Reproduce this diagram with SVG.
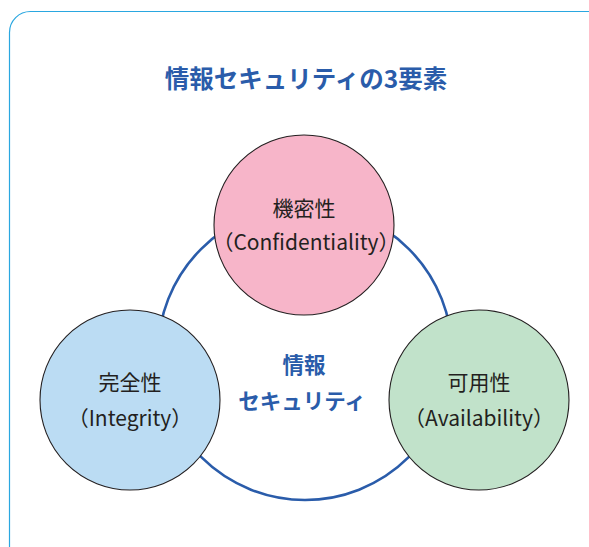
<svg xmlns="http://www.w3.org/2000/svg" width="589" height="547" viewBox="0 0 589 547">
<style>
.frame{fill:#ffffff;stroke:#2aa7e0;stroke-width:1.2}
.ring{fill:none;stroke:#2a5caa;stroke-width:2.6}
.node{stroke:#231f20;stroke-width:1.1}
.lbl{font-family:"Noto Sans CJK JP","Noto Sans",sans-serif;font-size:21px;fill:#231f20;text-anchor:middle;dominant-baseline:central}
.ttl{font-family:"Noto Sans CJK JP","Noto Sans",sans-serif;font-weight:bold;fill:#2a5caa;text-anchor:middle;dominant-baseline:central}
</style>
<rect class="frame" x="9.5" y="11.5" width="600" height="560" rx="21" ry="21"/>
<text id="title" class="ttl" x="306" y="77" font-size="24.5">情報セキュリティの3要素</text>
<g id="connectors">
<circle class="ring" cx="305" cy="353" r="147"/>
</g>
<g id="confidentiality">
<circle class="node" cx="304" cy="225" r="90" fill="#f7b5c9"/>
<text class="lbl" x="304" y="207">機密性</text>
<text class="lbl" x="306" y="241">（Confidentiality）</text>
</g>
<g id="integrity">
<circle class="node" cx="130" cy="400" r="90" fill="#bbdcf3"/>
<text class="lbl" x="130" y="381">完全性</text>
<text class="lbl" x="130" y="417">（Integrity）</text>
</g>
<g id="availability">
<circle class="node" cx="479" cy="400" r="90" fill="#c1e2ca"/>
<text class="lbl" x="479" y="381">可用性</text>
<text class="lbl" x="479" y="417">（Availability）</text>
</g>
<g id="center">
<text class="ttl" x="304" y="363" font-size="21.5">情報</text>
<text class="ttl" x="302" y="399" font-size="21.5">セキュリティ</text>
</g>
</svg>
